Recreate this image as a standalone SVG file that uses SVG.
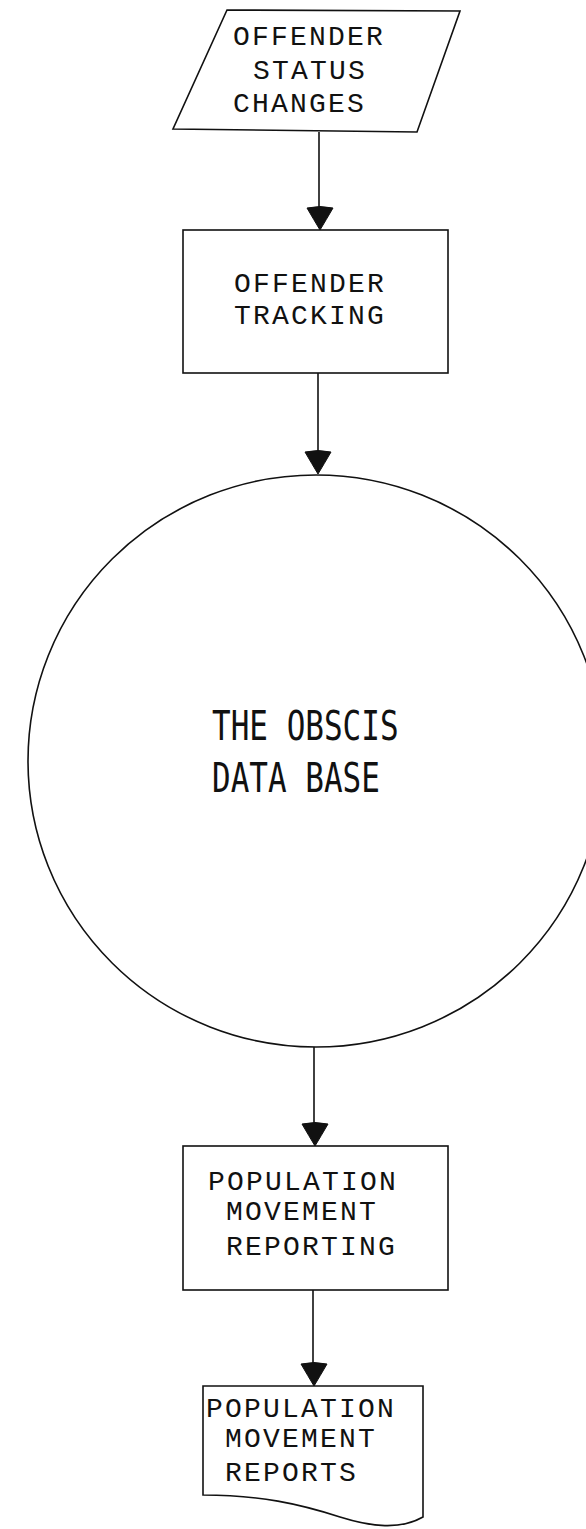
<svg xmlns="http://www.w3.org/2000/svg" width="586" height="1529" viewBox="0 0 586 1529">
<style>
.shape{fill:#fff;stroke:#111;stroke-width:1.6}
.lbl{font-family:"Liberation Mono","DejaVu Sans Mono",monospace;font-size:28px;letter-spacing:2.2px;fill:#111}
.big{font-family:"DejaVu Sans Mono","Liberation Mono",monospace;font-size:31px;fill:#111}
.conn{fill:none;stroke:#111;stroke-width:1.6}
.head{fill:#111;stroke:#111;stroke-width:1}
</style>
<defs>
<path id="ah" d="M-13,-22 Q0,-25 13,-22 Q6,-10 0,0 Q-6,-10 -13,-22 Z"/>
</defs>
<rect width="586" height="1529" fill="#fff"/>
<g id="status-changes">
<polygon class="shape" points="227,10 460,11 417,132 173,129"/>
<text class="lbl" x="233" y="45">OFFENDER</text>
<text class="lbl" x="253" y="79">STATUS</text>
<text class="lbl" x="233" y="112">CHANGES</text>
</g>
<g id="offender-tracking">
<rect class="shape" x="183" y="230" width="265" height="143"/>
<text class="lbl" x="234" y="292">OFFENDER</text>
<text class="lbl" x="234" y="324">TRACKING</text>
</g>
<g id="database">
<ellipse class="shape" cx="316" cy="761" rx="288" ry="286"/>
<text class="big" transform="translate(212,740) scale(1,1.33)">THE OBSCIS</text>
<text class="big" transform="translate(212,792) scale(1,1.33)">DATA BASE</text>
</g>
<g id="pop-movement-reporting">
<rect class="shape" x="183" y="1146" width="265" height="144"/>
<text class="lbl" x="208" y="1190">POPULATION</text>
<text class="lbl" x="226" y="1220">MOVEMENT</text>
<text class="lbl" x="226" y="1255">REPORTING</text>
</g>
<g id="pop-movement-reports">
<path class="shape" d="M203,1386 L423,1386 L423,1517 C400,1530 372,1527 340,1517 C300,1504 260,1495 203,1495 Z"/>
<text class="lbl" x="206" y="1417">POPULATION</text>
<text class="lbl" x="225" y="1447">MOVEMENT</text>
<text class="lbl" x="225" y="1481">REPORTS</text>
</g>
<g id="connectors">
<line class="conn" x1="319" y1="132" x2="319" y2="212"/>
<use href="#ah" class="head" transform="translate(320,230)"/>
<line class="conn" x1="318" y1="373" x2="318" y2="456"/>
<use href="#ah" class="head" transform="translate(318,474)"/>
<line class="conn" x1="314" y1="1047" x2="314" y2="1128"/>
<use href="#ah" class="head" transform="translate(315,1146)"/>
<line class="conn" x1="313" y1="1290" x2="313" y2="1368"/>
<use href="#ah" class="head" transform="translate(314,1386)"/>
</g>
</svg>
